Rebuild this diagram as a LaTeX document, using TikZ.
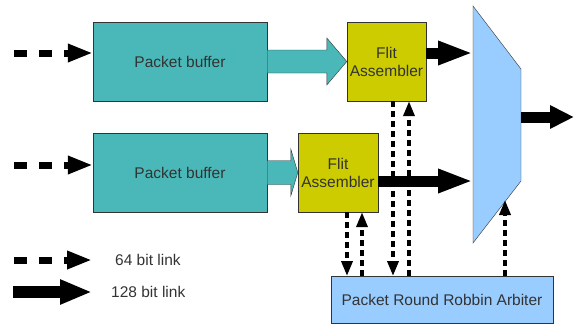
\documentclass[tikz,border=0pt]{standalone}
\usepackage{fontspec}
\setmainfont{Liberation Sans}
\usetikzlibrary{arrows.meta,calc}
\definecolor{bufteal}{HTML}{4AB8B8}
\definecolor{flityellow}{HTML}{CCCC00}
\definecolor{arbblue}{HTML}{99CCFF}
\definecolor{edgegray}{HTML}{333333}
\begin{document}
\begin{tikzpicture}[x=1pt,y=-1pt,
  box/.style={draw=edgegray,thin,text=edgegray,font=\fontsize{15.5}{18}\selectfont,align=center,inner sep=0pt},
  link64/.style={line width=7pt,dash pattern=on 13pt off 12pt,-{Triangle[length=25pt,width=17pt]}},
  link128/.style={line width=11pt,-{Triangle[length=35pt,width=22pt]}},
  ctrl/.style={line width=3.5pt,dash pattern=on 6pt off 4pt,>={Triangle[length=15pt,width=11pt]}},
  pipe/.style={fill=bufteal,draw=edgegray,thin}]
  \useasboundingbox (0,0) rectangle (574,325);
  % buffers, flit assemblers, arbiter
  \node[box,fill=bufteal,minimum width=174,minimum height=79] (buf1) at (180,61.5) {Packet buffer};
  \node[box,fill=bufteal,minimum width=174,minimum height=79] (buf2) at (180,172.5) {Packet buffer};
  \node[box,fill=flityellow,minimum width=79,minimum height=79] (fa1) at (386.5,61.5) {Flit\\Assembler};
  \node[box,fill=flityellow,minimum width=80,minimum height=79] (fa2) at (338,172.5) {Flit\\Assembler};
  \node[box,fill=arbblue,minimum width=222,minimum height=47] (arb) at (442,299.5) {Packet Round Robbin Arbiter};
  % mux
  \draw[fill=arbblue,draw=edgegray,thin] (473,6) -- (521,69) -- (521,181) -- (473,243) -- cycle;
  \coordinate (mxin1) at (473,53);
  \coordinate (mxin2) at (473,181);
  \coordinate (mxout) at (521,117);
  \coordinate (mxsel) at (505,200);
  \coordinate (out) at (574,117);
  % inputs
  \coordinate (in1) at (14,53);
  \coordinate (in2) at (14,165);
  \draw[link64] (in1) -- (in1 -| buf1.west);
  \draw[link64] (in2) -- (in2 -| buf2.west);
  % buffer to assembler
  \draw[pipe] ($(buf1.east)+(0,-11.5)$) -- ($(fa1.west)+(-20,-11.5)$) -- ($(fa1.west)+(-20,-23.5)$) -- (fa1.west)
    -- ($(fa1.west)+(-20,23.5)$) -- ($(fa1.west)+(-20,11.5)$) -- ($(buf1.east)+(0,11.5)$) -- cycle;
  \draw[pipe] ($(buf2.east)+(0,-12)$) -- ($(fa2.west)+(-7,-12)$) -- ($(fa2.west)+(-7,-23.5)$) -- (fa2.west)
    -- ($(fa2.west)+(-7,23.5)$) -- ($(fa2.west)+(-7,12)$) -- ($(buf2.east)+(0,12)$) -- cycle;
  % assembler to mux, mux out
  \draw[link128] (fa1.east |- mxin1) -- (mxin1);
  \draw[link128] (fa2.east |- mxin2) -- (mxin2);
  \draw[link128,-{Triangle[length=24pt,width=22pt]}] (mxout) -- (out);
  % arbiter handshakes
  \foreach \n/\x in {1/347,2/362,3/393,4/409,5/505}
    \coordinate (t\n) at (\x,276);
  \draw[ctrl,->] (t1 |- fa2.south) -- (t1);
  \draw[ctrl,->] (t2) -- (t2 |- fa2.south);
  \draw[ctrl,->] (t3 |- fa1.south) -- (t3);
  \draw[ctrl,->] (t4) -- (t4 |- fa1.south);
  \draw[ctrl,->] (t5) -- (mxsel);
  % legend
  \node[text=edgegray,font=\fontsize{15.5}{18}\selectfont,anchor=west,inner sep=0pt] (key64) at (115,260) {64 bit link};
  \node[text=edgegray,font=\fontsize{15.5}{18}\selectfont,anchor=west,inner sep=0pt] (key128) at (111,292) {128 bit link};
  \coordinate (l64) at (14,260);
  \coordinate (l128) at (13,292);
  \draw[link64] (l64) -- ($(key64.west)+(-23,0)$);
  \draw[link128,line width=12pt,-{Triangle[length=32pt,width=23pt]}] (l128) -- ($(key128.west)+(-19,0)$);
\end{tikzpicture}
\end{document}
